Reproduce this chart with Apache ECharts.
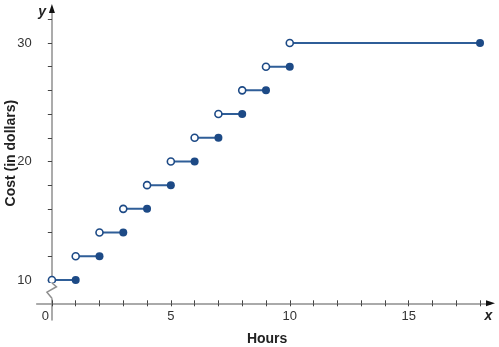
<!DOCTYPE html>
<html>
<head>
<meta charset="utf-8">
<script src="https://cdn.jsdelivr.net/npm/echarts@6/dist/echarts.min.js"></script>
<style>
html,body{margin:0;padding:0;background:#fff;}
#chart{width:499px;height:347px;}
</style>
</head>
<body>
<div id="chart"></div>
<script>
// Step function data
const stepStart = [0, 1, 2, 3, 4, 5, 6, 7, 8, 9, 10];
const stepEnd   = [1, 2, 3, 4, 5, 6, 7, 8, 9, 10, 18];
const cost      = [10, 12, 14, 16, 18, 20, 22, 24, 26, 28, 30];
// Axis ticks and labels
const xTicks  = [0,1,2,3,4,5,6,7,8,9,10,11,12,13,14,15,16,17,18];
const xLabels = [0, 5, 10, 15];
const yTicks  = [10,12,14,16,18,20,22,24,26,28,30,32];
const yLabels = [10, 20, 30];

const BLUE = '#1d4a86';
const LINE = '#2f5e98';
const AXIS = '#8f8f8f';
const TICK = '#444';
const FONT = '"Liberation Sans", Arial, sans-serif';

const lineData = [];
stepStart.forEach((s, i) => {
  lineData.push([s, cost[i]]);
  lineData.push([stepEnd[i], cost[i]]);
  lineData.push([stepEnd[i], '-']);
});
const openPts = stepStart.map((s, i) => [s, cost[i]]);
const closedPts = stepEnd.map((e, i) => [e, cost[i]]);

const xMin = -0.64, xMax = 18.44;
const yMin = 6.62, yMax = 32.91;

const chart = echarts.init(document.getElementById('chart'), null, {renderer: 'canvas'});

const option = {
  animation: false,
  backgroundColor: '#fff',
  grid: {left: 36.7, right: 8.5, top: 8.5, bottom: 27, containLabel: false},
  xAxis: [
    {
      type: 'value', min: xMin, max: xMax, position: 'bottom', offset: -16.7,
      axisLine: {show: true, onZero: false, lineStyle: {color: AXIS, width: 1.5}},
      axisTick: {show: true, customValues: xTicks, length: 3, lineStyle: {color: TICK, width: 1}},
      axisLabel: {
        show: true, customValues: xLabels, margin: 7, color: '#333', fontSize: 13, fontFamily: FONT,
        formatter: v => v === 0 ? '{z|0}' : String(v),
        rich: {z: {fontSize: 13, fontFamily: FONT, color: '#333', padding: [0, 13, 0, 0]}}
      },
      splitLine: {show: false}
    },
    {
      type: 'value', min: xMin, max: xMax, position: 'bottom', offset: -16.7,
      axisLine: {show: true, onZero: false, symbol: ['none', 'triangle'], symbolSize: [6, 9],
        lineStyle: {color: '#111', width: 1, opacity: 0}},
      axisTick: {show: true, inside: true, customValues: xTicks, length: 3, lineStyle: {color: TICK, width: 1}},
      axisLabel: {show: false},
      splitLine: {show: false},
      name: 'x', nameLocation: 'end', nameGap: -2,
      nameTextStyle: {fontStyle: 'italic', fontWeight: 'bold', fontSize: 14, fontFamily: FONT, color: '#222',
        align: 'center', verticalAlign: 'top', padding: [6, 0, 0, 0]}
    }
  ],
  yAxis: [
    {
      type: 'value', min: yMin, max: yMax,
      axisLine: {show: true, onZero: true, lineStyle: {color: AXIS, width: 1.5}},
      axisTick: {show: true, customValues: yTicks, length: 4, lineStyle: {color: TICK, width: 1}},
      axisLabel: {show: true, customValues: yLabels, margin: 5, color: '#333', fontSize: 13, fontFamily: FONT},
      splitLine: {show: false}
    },
    {
      type: 'value', min: yMin, max: yMax,
      axisLine: {show: true, onZero: true, symbol: ['none', 'triangle'], symbolSize: [6, 9],
        lineStyle: {color: '#111', width: 1, opacity: 0}},
      axisTick: {show: true, inside: true, customValues: yTicks, length: 4, lineStyle: {color: TICK, width: 1}},
      axisLabel: {show: false},
      splitLine: {show: false},
      name: 'y', nameLocation: 'end', nameGap: -4,
      nameTextStyle: {fontStyle: 'italic', fontWeight: 'bold', fontSize: 14, fontFamily: FONT, color: '#222',
        align: 'right', verticalAlign: 'middle', padding: [0, 6, 0, 0]}
    }
  ],
  series: [
    {
      type: 'line', data: lineData, xAxisIndex: 0, yAxisIndex: 0,
      showSymbol: false, connectNulls: false, z: 2,
      lineStyle: {color: LINE, width: 2}, silent: true
    },
    {
      type: 'scatter', data: openPts, xAxisIndex: 0, yAxisIndex: 0,
      symbol: 'circle', symbolSize: 7, z: 3,
      itemStyle: {color: '#fff', borderColor: BLUE, borderWidth: 1.6, opacity: 1}
    },
    {
      type: 'scatter', data: closedPts, xAxisIndex: 0, yAxisIndex: 0,
      symbol: 'circle', symbolSize: 8, z: 3,
      itemStyle: {color: BLUE, opacity: 1}
    }
  ]
};
chart.setOption(option);

// Axis titles and the y-axis break (positions derived from the axes)
const ax = chart.convertToPixel({xAxisIndex: 0}, 0);
const yTop = chart.convertToPixel({yAxisIndex: 0}, 9.75);
const yBot = chart.convertToPixel({yAxisIndex: 0}, 8.45);
const h = yBot - yTop;
const xLeft = chart.convertToPixel({xAxisIndex: 0}, xMin);
const xRight = chart.convertToPixel({xAxisIndex: 0}, xMax);
const yMid = chart.convertToPixel({yAxisIndex: 0}, 20.7);

chart.setOption({
  graphic: [
    {type: 'rect', shape: {x: ax - 3, y: yTop, width: 6, height: h}, style: {fill: '#fff'}, z: 100},
    {type: 'polyline', z: 101,
      shape: {points: [[ax, yTop], [ax + 4.5, yTop + h * 0.25], [ax - 5, yTop + h * 0.6], [ax, yBot]]},
      style: {stroke: AXIS, lineWidth: 1.5, fill: null}},
    {type: 'text', z: 100, x: 11, y: yMid, rotation: Math.PI / 2,
      style: {text: 'Cost (in dollars)', font: 'bold 14px ' + FONT, fill: '#222', align: 'center', verticalAlign: 'middle'}},
    {type: 'text', z: 100, x: (xLeft + xRight) / 2 + 3.5, y: 339,
      style: {text: 'Hours', font: 'bold 14px ' + FONT, fill: '#222', align: 'center', verticalAlign: 'middle'}}
  ]
});
</script>
</body>
</html>
